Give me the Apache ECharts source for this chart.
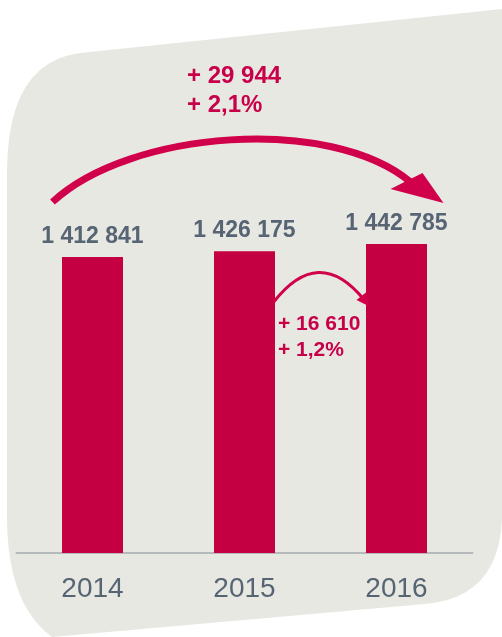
<!DOCTYPE html>
<html>
<head>
<meta charset="UTF-8">
<title>Population 2014-2016</title>
<script src="https://cdn.jsdelivr.net/npm/echarts@6/dist/echarts.min.js"></script>
<style>
html, body { margin: 0; padding: 0; background: #ffffff; }
#main { width: 502px; height: 637px; }
</style>
</head>
<body>
<div id="main"></div>
<script>
var years = ['2014', '2015', '2016'];
var values = [1412841, 1426175, 1442785];
// arrows: [from index, to index]
var changes = [[0, 2], [1, 2]];

var FONT = '"Liberation Sans", Arial, sans-serif';
var RED = '#c40042';
var ARROW = '#d1004a';

function fmt(n) {
	return String(n).replace(/\B(?=(\d{3})+(?!\d))/g, ' ');
}
function pct(a, b) {
	return ((b - a) / a * 100).toFixed(1).replace('.', ',');
}
// sample a quadratic curve into points
function quad(p0, c, p1, pts) {
	for (var i = 1; i <= 12; i++) {
		var t = i / 12, u = 1 - t;
		pts.push([u * u * p0[0] + 2 * u * t * c[0] + t * t * p1[0],
				u * u * p0[1] + 2 * u * t * c[1] + t * t * p1[1]]);
	}
}

var bg = [[80, 53], [502, 9], [502, 520]];
quad([502, 520], [498, 598], [425, 604], bg);
bg.push([52, 637]);
quad([52, 637], [8, 605], [7, 520], bg);
bg.push([7, 170]);
quad([7, 170], [8, 62], [80, 53], bg);

var myChart = echarts.init(document.getElementById('main'));

var option = {
	animation : false,
	backgroundColor : '#ffffff',
	grid : {
		left : 16.5,
		right : 29.5,
		top : 100,
		bottom : 84
	},
	xAxis : {
		type : 'category',
		data : years,
		axisTick : { show : false },
		axisLine : { lineStyle : { color : '#b5b9bc', width : 2 } },
		axisLabel : {
			color : '#566473',
			fontSize : 28,
			fontFamily : FONT,
			margin : 22
		}
	},
	yAxis : {
		type : 'value',
		min : 730000,
		max : 1775000,
		show : false,
		splitLine : { show : false }
	},
	series : [ {
		type : 'bar',
		data : values,
		barWidth : 61,
		itemStyle : { color : RED },
		label : {
			show : true,
			position : 'top',
			distance : 9,
			color : '#566473',
			fontSize : 23,
			fontWeight : 'bold',
			fontFamily : FONT,
			formatter : function(p) { return fmt(p.value); }
		},
		z : 5
	} ]
};
myChart.setOption(option);

// annotations anchored on the bars
function px(i) {
	return myChart.convertToPixel({ seriesIndex : 0 }, [i, values[i]]);
}
var a = px(changes[0][0]), b = px(changes[0][1]);
var c = px(changes[1][0]), d = px(changes[1][1]);
var big = fmt(values[changes[0][1]] - values[changes[0][0]]);
var bigP = pct(values[changes[0][0]], values[changes[0][1]]);
var small = fmt(values[changes[1][1]] - values[changes[1][0]]);
var smallP = pct(values[changes[1][0]], values[changes[1][1]]);

// big arc: from left of 2014 label up to right of 2016 label
var s0 = [a[0] - 40, a[1] - 55];
var e0 = [b[0] + 14, b[1] - 62];
var tip0 = [b[0] + 47, b[1] - 41];

// small arc: from 2015 bar right side to 2016 bar left side
var s1 = [c[0] + 29, c[1] + 51];
var e1 = [d[0] - 33, d[1] + 55];
var tip1 = [d[0] - 28, d[1] + 62];

myChart.setOption({
	graphic : [ {
		type : 'polygon',
		z : -10,
		silent : true,
		shape : { points : bg },
		style : { fill : '#e8e8e3' }
	}, {
		type : 'bezierCurve',
		z : 10,
		shape : {
			x1 : s0[0], y1 : s0[1],
			cpx1 : 130, cpy1 : 130,
			cpx2 : 330, cpy2 : 115,
			x2 : e0[0], y2 : e0[1]
		},
		style : { stroke : ARROW, lineWidth : 7, fill : null }
	}, {
		type : 'polygon',
		z : 10,
		shape : { points : [ tip0, [tip0[0] - 21, tip0[1] - 30], [tip0[0] - 53, tip0[1] - 14] ] },
		style : { fill : ARROW }
	}, {
		type : 'bezierCurve',
		z : 10,
		shape : {
			x1 : s1[0], y1 : s1[1],
			cpx1 : (s1[0] + e1[0]) / 2, cpy1 : s1[1] - 58,
			x2 : e1[0], y2 : e1[1]
		},
		style : { stroke : ARROW, lineWidth : 3, fill : null }
	}, {
		type : 'polygon',
		z : 10,
		shape : { points : [ tip1, [tip1[0] - 2, tip1[1] - 14], [tip1[0] - 12, tip1[1] - 6] ] },
		style : { fill : ARROW }
	}, {
		type : 'text',
		z : 10,
		x : 187,
		y : 62,
		style : {
			text : '+ ' + big + '\n+ ' + bigP + '%',
			fill : '#c8004a',
			font : 'bold 24px ' + FONT,
			lineHeight : 29
		}
	}, {
		type : 'text',
		z : 10,
		x : 278,
		y : 311,
		style : {
			text : '+ ' + small + '\n+ ' + smallP + '%',
			fill : '#c8004a',
			font : 'bold 21px ' + FONT,
			lineHeight : 26
		}
	} ]
});
</script>
</body>
</html>
